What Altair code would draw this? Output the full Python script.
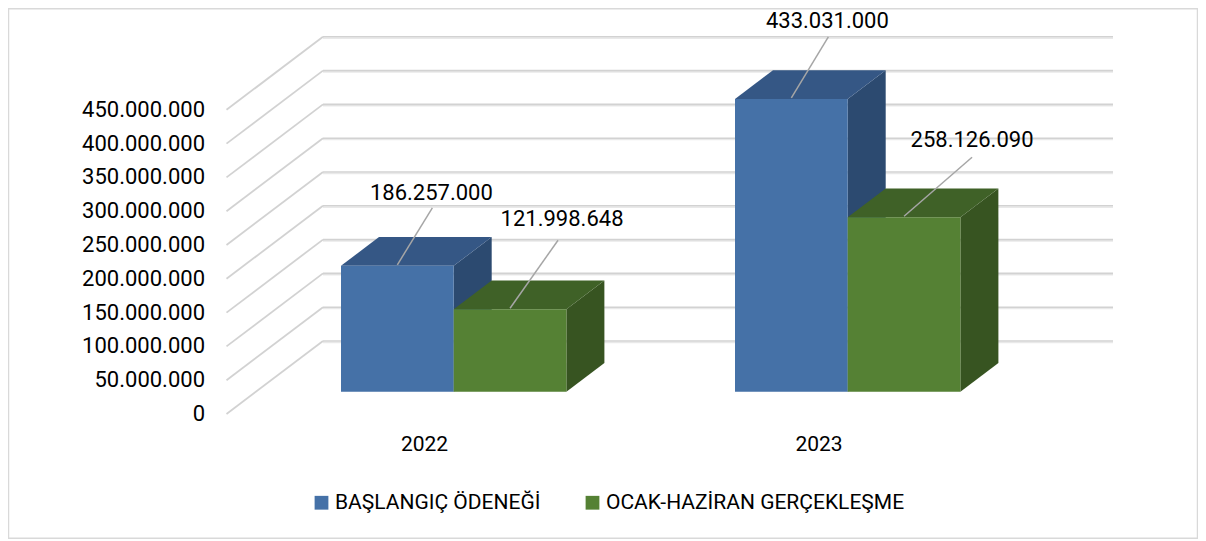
import altair as alt
import pandas as pd

# ---------- values ----------
years = ["2022", "2023"]
series = ["BAŞLANGIÇ ÖDENEĞİ", "OCAK-HAZİRAN GERÇEKLEŞME"]
baslangic = [186257000, 433031000]
gerceklesme = [121998648, 258126090]
data_labels_a = ["186.257.000", "433.031.000"]
data_labels_b = ["121.998.648", "258.126.090"]
ticks = [0, 50000000, 100000000, 150000000, 200000000, 250000000,
         300000000, 350000000, 400000000, 450000000]
tick_labels = ["0", "50.000.000", "100.000.000", "150.000.000", "200.000.000", "250.000.000",
               "300.000.000", "350.000.000", "400.000.000", "450.000.000"]

# ---------- layout ----------
W, H = 1190, 531
PX = 33.8 / 50000000       # pixels per unit of value
Y0 = 406                   # pixel row of value 0 on the front edge
FRONT_X, BACK_X = 218.5, 315
TICK_LABEL_X = 197
WALL_RISE = 73 / PX
GRID_END = 1105
GROUP_X = {"2022": 333, "2023": 727}
BAR_W = 112.7
DEPTH_X = 38
DEPTH_RISE = 28.7 / PX
BAR_LIFT = 22.3 / PX       # front of the bars sits this far up the floor
YEAR_X = {"2022": 416.5, "2023": 811}
YEAR_ROW = -(437 - Y0) / PX
FONT = "Roboto"
FS = 22

BLUE = ("#4571A7", "#355785", "#2C4A70")
GREEN = ("#558134", "#3F6127", "#375421")
GRID = "#D2D2D2"
GRID_SHADE = "#E9E9E9"
FRAME = "#D9D9D9"
LEADER = "#A6A6A6"

# label centre / leader end relative to the bar's top-front centre, pixels
LEADER_END = {("2022", 0): (35, 57), ("2023", 0): (37, 61),
              ("2022", 1): (48, 68), ("2023", 1): (68, 59)}
LABEL_AT = {("2022", 0): (34, 73), ("2023", 0): (36, 78),
            ("2022", 1): (52, 90), ("2023", 1): (68, 77)}

xs = alt.Scale(domain=[0, W], range=[0, W], nice=False, zero=False)
ys = alt.Scale(domain=[-(H - Y0) / PX, Y0 / PX], range=[H, 0], nice=False, zero=False)


def X():
    return alt.X("x:Q", scale=xs, axis=None, title=None)


def Y():
    return alt.Y("y:Q", scale=ys, axis=None, title=None)


# ---------- grid ----------
grid_rows, wall_rows = [], []
for t in ticks:
    wall_rows.append({"x": BACK_X, "x2": GRID_END, "y": t + WALL_RISE, "y2": t + WALL_RISE})
    grid_rows.append({"x": FRONT_X, "x2": BACK_X, "y": t, "y2": t + WALL_RISE})

shade = alt.Chart(pd.DataFrame(wall_rows)).transform_calculate(
    y="datum.y - 1.4 / %r" % PX, y2="datum.y2 - 1.4 / %r" % PX
).mark_rule(color=GRID_SHADE, strokeWidth=1.5).encode(x=X(), x2="x2:Q", y=Y(), y2="y2:Q")
wall = alt.Chart(pd.DataFrame(wall_rows)).mark_rule(color=GRID, strokeWidth=1.6).encode(
    x=X(), x2="x2:Q", y=Y(), y2="y2:Q")
floor = alt.Chart(pd.DataFrame(grid_rows)).mark_rule(color=GRID, strokeWidth=1.8).encode(
    x=X(), x2="x2:Q", y=Y(), y2="y2:Q")
tick_text = alt.Chart(pd.DataFrame({"x": [TICK_LABEL_X] * len(ticks), "y": ticks, "text": tick_labels})).mark_text(
    font=FONT, fontSize=FS, color="#000000", align="right", baseline="middle").encode(
    x=X(), y=Y(), text="text:N")

# ---------- frame ----------
frame = alt.Chart(pd.DataFrame([{"x": 0.5, "x2": W - 0.5, "y": -(H - 0.8 - Y0) / PX, "y2": (Y0 - 0.8) / PX}])).mark_rect(
    fill=None, stroke=FRAME, strokeWidth=1.5).encode(x=X(), x2="x2:Q", y=Y(), y2="y2:Q")

# ---------- bars ----------
front_rows, side_rows, top_rows, leader_rows, label_rows = [], [], [], [], []
for s, (name, vals, texts) in enumerate(zip(series, (baslangic, gerceklesme), (data_labels_a, data_labels_b))):
    for yr, v, txt in zip(years, vals, texts):
        xl = GROUP_X[yr] + s * BAR_W
        xr = xl + BAR_W
        bot = BAR_LIFT
        top = v + BAR_LIFT
        front_rows.append({"x": xl, "x2": xr, "y": bot, "y2": top, "series": name})
        bid = f"{yr}-{s}"
        side_rows += [
            {"x": xr, "y": top, "y2": bot, "bar": bid, "s": s},
            {"x": xr + DEPTH_X, "y": top + DEPTH_RISE, "y2": bot + DEPTH_RISE, "bar": bid, "s": s},
        ]
        top_rows += [
            {"x": xl, "y": top, "y2": top, "bar": bid, "s": s},
            {"x": xl + DEPTH_X, "y": top + DEPTH_RISE, "y2": top, "bar": bid, "s": s},
            {"x": xr, "y": top + DEPTH_RISE, "y2": top, "bar": bid, "s": s},
            {"x": xr + DEPTH_X, "y": top + DEPTH_RISE, "y2": top + DEPTH_RISE, "bar": bid, "s": s},
        ]
        cx = (xl + xr) / 2
        ex, ey = LEADER_END[(yr, s)]
        lx, ly = LABEL_AT[(yr, s)]
        leader_rows.append({"x": cx, "x2": cx + ex, "y": top + 1 / PX, "y2": top + (ey + 1) / PX})
        label_rows.append({"x": cx + lx, "y": top + ly / PX, "text": txt})

sides = pd.DataFrame(side_rows)
tops = pd.DataFrame(top_rows)


def face(df, s, shade_idx):
    colors = (BLUE, GREEN)[s]
    return alt.Chart(df[df.s == s]).mark_area(color=colors[shade_idx], opacity=1, interpolate="linear").encode(
        x=X(), y=Y(), y2="y2:Q", detail="bar:N")


fronts = alt.Chart(pd.DataFrame(front_rows)).mark_rect(opacity=1).encode(
    x=X(), x2="x2:Q", y=Y(), y2="y2:Q",
    color=alt.Color(
        "series:N",
        scale=alt.Scale(domain=series, range=[BLUE[0], GREEN[0]]),
        legend=alt.Legend(
            title=None, orient="none", legendX=303, legendY=484, direction="horizontal", columns=2,
            symbolType="square", symbolSize=190, symbolStrokeWidth=0, symbolOpacity=1,
            labelFont=FONT, labelFontSize=21, labelColor="#000000", labelLimit=600,
            labelOffset=3, columnPadding=41,
        ),
    ),
)

leaders = alt.Chart(pd.DataFrame(leader_rows)).mark_rule(color=LEADER, strokeWidth=1.5).encode(
    x=X(), x2="x2:Q", y=Y(), y2="y2:Q")
labels = alt.Chart(pd.DataFrame(label_rows)).mark_text(
    font=FONT, fontSize=FS, color="#000000", align="center", baseline="middle").encode(
    x=X(), y=Y(), text="text:N")
year_labels = alt.Chart(pd.DataFrame({"x": [YEAR_X[y] for y in years], "y": [YEAR_ROW] * 2, "text": years})).mark_text(
    font=FONT, fontSize=21, color="#000000", align="center", baseline="middle").encode(
    x=X(), y=Y(), text="text:N")

chart = alt.layer(
    frame, shade, wall, floor, tick_text,
    face(sides, 0, 2), face(tops, 0, 1), face(sides, 1, 2), face(tops, 1, 1),
    fronts, leaders, labels, year_labels,
).properties(
    width=W, height=H, padding=0, autosize=alt.AutoSizeParams(type="none"), background="#FFFFFF",
).configure_view(stroke=None)

chart.save("out.html", embed_options={"renderer": "svg", "actions": False})
